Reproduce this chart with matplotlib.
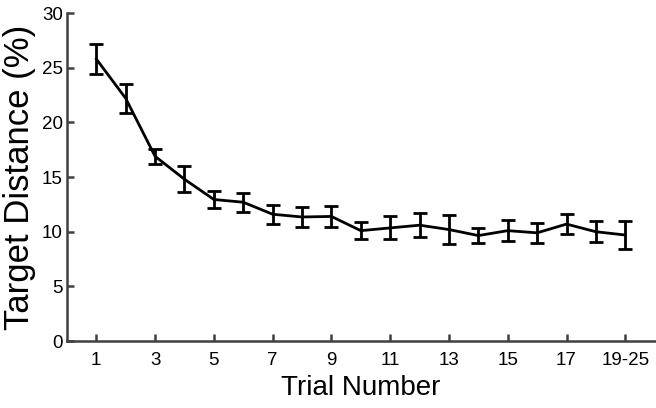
import matplotlib.pyplot as plt
import numpy as np

plt.rcParams["font.family"] = ["Liberation Sans", "DejaVu Sans"]

# data
trial_pos = np.arange(1, 20)
mean_dist = [25.8, 22.2, 16.9, 14.8, 12.95, 12.7, 11.6, 11.35, 11.4, 10.1,
             10.35, 10.6, 10.2, 9.65, 10.1, 9.9, 10.7, 10.0, 9.7]
err_dist = [1.4, 1.35, 0.7, 1.2, 0.8, 0.85, 0.85, 0.9, 1.0, 0.77,
            1.05, 1.1, 1.3, 0.7, 0.95, 0.9, 0.9, 0.95, 1.3]
tick_pos = [1, 3, 5, 7, 9, 11, 13, 15, 17, 19]
tick_labels = ["1", "3", "5", "7", "9", "11", "13", "15", "17", "19-25"]

fig = plt.figure(figsize=(6.56, 4.08), dpi=100)
ax = fig.add_axes([0.102, 0.164, 0.896, 0.804])

ax.errorbar(trial_pos, mean_dist, yerr=err_dist, color="black",
            linewidth=2.0, elinewidth=2.0, capsize=4.7, capthick=2.0)

ax.set_xlim(0, 20)
ax.set_ylim(0, 30)
ax.set_xticks(tick_pos)
ax.set_xticklabels(tick_labels)
ax.set_yticks(range(0, 31, 5))

axis_col = "#404040"
for side in ["top", "right"]:
    ax.spines[side].set_visible(False)
for side in ["left", "bottom"]:
    ax.spines[side].set_color(axis_col)
    ax.spines[side].set_linewidth(1.8)
ax.tick_params(direction="in", length=5, width=1.8, color=axis_col,
               labelsize=13.5, labelcolor="black")
ax.tick_params(axis="x", pad=8)
ax.tick_params(axis="y", pad=3)

ax.set_xlabel("Trial Number", fontsize=20, labelpad=4)
ax.set_ylabel("Target Distance (%)", fontsize=25, labelpad=4)

plt.savefig("out.png", dpi=100)
